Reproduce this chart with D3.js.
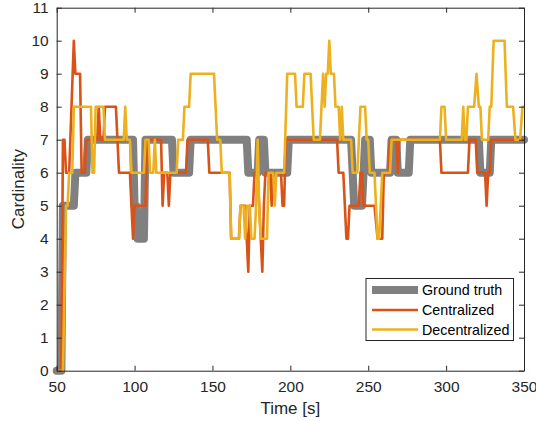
<!DOCTYPE html>
<html>
<head>
<meta charset="utf-8">
<script src="https://cdn.jsdelivr.net/npm/d3@7"></script>
<style>
  html, body { margin: 0; padding: 0; background: #fff; }
  svg { display: block; font-family: "Liberation Sans", Arial, Helvetica, sans-serif; }
</style>
</head>
<body>
<svg id="chart" width="536" height="421"></svg>
<script>
// ---- Data (time [s], cardinality) ----
const groundTruth = [
  [50,0],[53,0],[54,5],[61,5],[62,6],[69,6],[70,7],[99,7],[100,5],[101,5],[102,4],[106,4],[107,7],
  [124,7],[125,6],[135,6],[136,7],[172,7],[173,6],[179,6],[180,7],[183,7],[184,6],[198,6],[199,7],
  [239,7],[240,6],[241,5],[246,5],[247,6],[248,7],[251,7],[252,6],[264,6],[265,7],[268,7],[269,6],
  [276,6],[277,7],[321,7],[322,6],[328,6],[329,7],[350,7]
];
const centralized = [
  [50,0],[53,0],[54,7],[55,7],[56,6],[58,6],[61,10],[62,9],[65,9],[66,6],[68,6],[69,7],[76,7],[77,8],
  [78,7],[80,7],[81,8],[88,8],[89,7],[90,6],[97,6],[98,5],[99,4],[100,5],[107,5],[108,7],[117,7],
  [118,5],[119,6],[121,6],[122,5],[123,6],[133,6],[134,7],[147,7],[148,6],[161,6],[162,4],[167,4],
  [168,5],[171,5],[172,4],[173,3],[174,5],[176,5],[177,6],[179,6],[180,5],[181,4],[182,3],[183,5],
  [184,6],[187,6],[188,5],[189,6],[194,6],[195,5],[196,5],[197,7],[230,7],[231,6],[234,6],[236,4],
  [237,4],[238,5],[244,5],[245,6],[246,6],[247,5],[254,5],[256,4],[259,4],[260,6],[263,6],[264,7],
  [268,7],[269,6],[270,7],[296,7],[297,6],[314,6],[315,7],[319,7],[320,6],[325,6],[326,5],[327,6],
  [328,6],[329,7],[350,7]
];
const decentralized = [
  [50,0],[54,0],[56,5],[57,5],[58,6],[60,6],[61,8],[72,8],[73,6],[74,6],[75,8],[80,8],[81,7],[93,7],
  [94,8],[95,7],[97,7],[98,6],[106,6],[107,7],[109,7],[110,6],[112,6],[113,7],[114,6],[127,6],
  [128,7],[131,7],[132,8],[135,8],[136,9],[151,9],[153,7],[155,7],[156,6],[161,6],[162,4],[167,4],
  [168,5],[170,5],[171,4],[172,5],[174,5],[175,4],[177,4],[178,5],[179,7],[180,5],[181,4],[185,4],
  [186,6],[189,6],[190,5],[191,6],[196,6],[198,9],[203,9],[204,8],[208,8],[209,9],[213,9],[215,7],
  [219,7],[221,9],[222,8],[223,9],[224,9],[225,10],[226,9],[228,9],[229,8],[231,8],[232,7],[233,8],
  [234,7],[239,7],[240,6],[243,6],[244,7],[245,8],[248,8],[249,7],[250,7],[251,6],[254,6],[255,5],
  [256,4],[257,4],[258,5],[259,6],[264,6],[265,7],[296,7],[297,8],[299,8],[300,7],[310,7],[311,8],
  [312,7],[313,7],[314,8],[318,8],[319.5,9],[321,8],[322,8],[323,7],[327,7],[328,8],[329,8],
  [330.5,10],[337.5,10],[339,8],[343,8],[344.5,7],[347.5,7],[349,8],[350,8]
];
const seriesNames = ["Ground truth", "Centralized", "Decentralized"];
const xTicks = [50, 100, 150, 200, 250, 300, 350];
const yTicks = [0, 1, 2, 3, 4, 5, 6, 7, 8, 9, 10, 11];
const xLabel = "Time [s]";
const yLabel = "Cardinality";

// ---- Layout / style ----
const colors = ["#808080", "#D95319", "#EDB120"];
const widths = [8, 2.6, 2.6];
const L = 56.7, R = 524, T = 7.7, B = 370.7;
const axisColor = "#262626";

const svg = d3.select("#chart");
const x = d3.scaleLinear().domain([50, 350]).range([L, R]);
const y = d3.scaleLinear().domain([0, 11]).range([B, T]);

const line = d3.line().x(d => x(d[0])).y(d => y(d[1]));
const allSeries = [groundTruth, centralized, decentralized];

allSeries.forEach((s, i) => {
  svg.append("path")
    .datum(s)
    .attr("d", line)
    .attr("fill", "none")
    .attr("stroke", colors[i])
    .attr("stroke-width", widths[i])
    .attr("stroke-linejoin", "round")
    .attr("stroke-linecap", i === 0 ? "round" : "butt");
});

// Axes
function styleAxis(g) {
  g.selectAll("path.domain").attr("stroke", axisColor).attr("stroke-width", 1);
  g.selectAll(".tick line").attr("stroke", axisColor).attr("stroke-width", 1);
  g.selectAll(".tick text").attr("fill", axisColor).style("font-size", "15.5px")
    .style("font-family", '"Liberation Sans", Arial, Helvetica, sans-serif');
}
svg.append("g").attr("transform", `translate(0,${B})`)
  .call(d3.axisBottom(x).tickValues(xTicks).tickSize(-5).tickSizeOuter(0).tickPadding(10))
  .call(styleAxis);
svg.append("g").attr("transform", `translate(0,${T})`)
  .call(d3.axisTop(x).tickValues(xTicks).tickSize(-5).tickSizeOuter(0).tickFormat(""))
  .call(styleAxis);
svg.append("g").attr("transform", `translate(${L},0)`)
  .call(d3.axisLeft(y).tickValues(yTicks).tickSize(-5).tickSizeOuter(0).tickPadding(8))
  .call(styleAxis);
svg.append("g").attr("transform", `translate(${R},0)`)
  .call(d3.axisRight(y).tickValues(yTicks).tickSize(-5).tickSizeOuter(0).tickFormat(""))
  .call(styleAxis);

// Axis labels
svg.append("text")
  .attr("x", (L + R) / 2).attr("y", 414)
  .attr("text-anchor", "middle")
  .attr("fill", axisColor)
  .style("font-size", "17px")
  .text(xLabel);
svg.append("text")
  .attr("transform", `translate(24,${(T + B) / 2}) rotate(-90)`)
  .attr("text-anchor", "middle")
  .attr("fill", axisColor)
  .style("font-size", "17px")
  .text(yLabel);

// Legend
const lg = svg.append("g");
lg.append("rect")
  .attr("x", 366).attr("y", 278.5).attr("width", 147.5).attr("height", 62)
  .attr("fill", "#fff").attr("stroke", axisColor).attr("stroke-width", 1);
const rowY = [290, 310, 329.5];
seriesNames.forEach((name, i) => {
  lg.append("line")
    .attr("x1", 372).attr("x2", 418)
    .attr("y1", rowY[i]).attr("y2", rowY[i])
    .attr("stroke", colors[i]).attr("stroke-width", widths[i]);
  lg.append("text")
    .attr("x", 422).attr("y", rowY[i]).attr("dy", "0.35em")
    .attr("fill", "#000")
    .style("font-size", "14.3px")
    .text(name);
});
</script>
</body>
</html>
